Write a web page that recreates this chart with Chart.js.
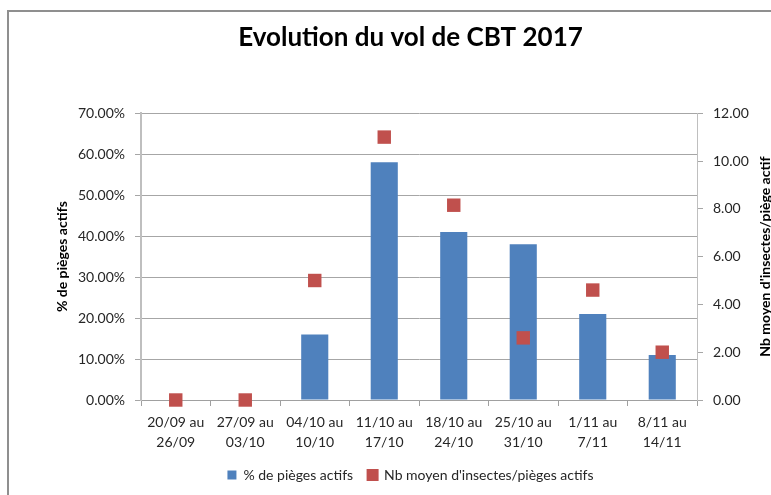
<!DOCTYPE html>
<html>
<head>
<meta charset="utf-8">
<script src="https://cdn.jsdelivr.net/npm/chart.js@4/dist/chart.umd.min.js"></script>
<style>
  body { margin: 0; background: #fff; overflow: hidden; }
  #frame { position: absolute; left: 7px; top: 10px; width: 900px; height: 700px; border-left: 2px solid #8f8f8f; border-top: 2px solid #8f8f8f; }
  #wrap { position: absolute; left: 0; top: 0; width: 771px; height: 495px; }
</style>
</head>
<body>
<div id="frame"></div>
<div id="wrap"><canvas id="myChart" width="771" height="495"></canvas></div>
<script>
var weeks = [
  ['20/09 au', '26/09'],
  ['27/09 au', '03/10'],
  ['04/10 au', '10/10'],
  ['11/10 au', '17/10'],
  ['18/10 au', '24/10'],
  ['25/10 au', '31/10'],
  ['1/11 au', '7/11'],
  ['8/11 au', '14/11']
];
var pct_actifs = [0, 0, 16, 58, 41, 38, 21, 11];
var nb_moyen = [0, 0, 5.0, 11.0, 8.15, 2.6, 4.6, 2.0];

var FONT = 'Lato, "Open Sans", sans-serif';
var right_title = "Nb moyen d'insectes/piège actif";

// right axis title reads bottom-to-top like the left one
var rightTitle = {
  id: 'rightTitle',
  afterDraw: function(chart) {
    var c = chart.ctx;
    var a = chart.chartArea;
    c.save();
    c.translate(765, (a.top + a.bottom) / 2);
    c.rotate(-Math.PI / 2);
    c.font = 'bold 14px ' + FONT;
    c.fillStyle = '#000';
    c.textAlign = 'center';
    c.textBaseline = 'middle';
    c.fillText(right_title, 0, 0);
    c.restore();
  }
};

var ctx = document.getElementById('myChart').getContext('2d');
var chart = new Chart(ctx, {
  type: 'bar',
  data: {
    labels: weeks,
    datasets: [{
      label: '% de pièges actifs',
      data: pct_actifs,
      backgroundColor: '#4F81BD',
      yAxisID: 'y',
      barPercentage: 0.39,
      categoryPercentage: 1,
      order: 2
    }, {
      type: 'line',
      label: "Nb moyen d'insectes/pièges actifs",
      data: nb_moyen,
      yAxisID: 'y1',
      showLine: false,
      pointStyle: 'rect',
      pointRadius: 9.5,
      pointHoverRadius: 9.5,
      backgroundColor: '#C0504D',
      borderColor: '#C0504D',
      pointBorderWidth: 0,
      clip: false,
      order: 1
    }]
  },
  options: {
    responsive: false,
    animation: false,
    layout: { padding: { left: 50, right: 0, top: 10, bottom: 3 } },
    plugins: {
      title: {
        display: true,
        text: 'Evolution du vol de CBT 2017',
        color: '#000',
        font: { family: FONT, size: 26, weight: 'bold' },
        padding: { top: 12, bottom: 60 }
      },
      legend: {
        position: 'bottom',
        labels: {
          color: '#262626',
          font: { family: FONT, size: 14 },
          boxWidth: 9,
          boxHeight: 9,
          padding: 15,
          sort: function(a, b) { return a.datasetIndex - b.datasetIndex; }
        }
      },
      tooltip: { enabled: false }
    },
    scales: {
      x: {
        grid: { drawOnChartArea: false, color: '#A0A0A0', tickLength: 6 },
        border: { color: '#A0A0A0' },
        ticks: { color: '#262626', font: { family: FONT, size: 14, lineHeight: 1.4 }, padding: 7, maxRotation: 0 },
        afterFit: function(s) { s.height = 53; }
      },
      y: {
        position: 'left',
        min: 0, max: 70,
        ticks: {
          stepSize: 10,
          color: '#262626',
          font: { family: FONT, size: 14 },
          padding: 10,
          callback: function(v) { return v.toFixed(2) + '%'; }
        },
        grid: { color: '#A6A6A6', tickLength: 6 },
        border: { color: '#BFBFBF', width: 2 },
        title: {
          display: true,
          text: '% de pièges actifs',
          color: '#000',
          font: { family: FONT, size: 14, weight: 'bold' },
          padding: { top: 4, bottom: 4 }
        },
        afterFit: function(s) { s.width = 91; }
      },
      y1: {
        position: 'right',
        min: 0, max: 12,
        ticks: {
          stepSize: 2,
          color: '#262626',
          font: { family: FONT, size: 14 },
          padding: 10,
          callback: function(v) { return v.toFixed(2); }
        },
        grid: { drawOnChartArea: false, color: '#A6A6A6', tickLength: 6 },
        border: { color: '#BFBFBF', width: 1 },
        afterFit: function(s) { s.width = 74; }
      }
    }
  },
  plugins: [rightTitle]
});
</script>
</body>
</html>
